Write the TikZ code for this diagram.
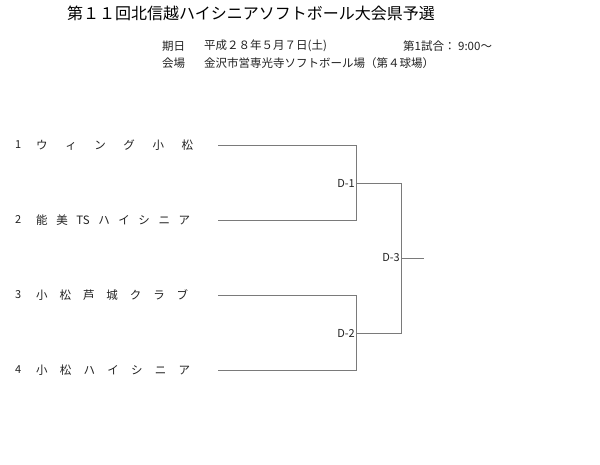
\documentclass[tikz,border=0pt]{standalone}
\usepackage{fontspec}
\newfontfamily\jp{Noto Sans CJK JP}
\definecolor{linegray}{HTML}{7A7A7A}
\definecolor{txt}{HTML}{222222}
\begin{document}
\begin{tikzpicture}[x=1pt,y=-1pt,
  title/.style={anchor=center,inner sep=0pt,font=\jp\fontsize{16}{18}\selectfont,text=black},
  info/.style={anchor=west,inner sep=0pt,font=\jp\fontsize{11.5}{13}\selectfont,text=txt},
  teamno/.style={anchor=west,inner sep=0pt,font=\jp\fontsize{11}{13}\selectfont,text=txt},
  teamname/.style={anchor=west,inner sep=0pt,font=\jp\fontsize{11.5}{13}\selectfont,text=txt},
  game/.style={anchor=east,inner sep=1pt,font=\jp\fontsize{11}{12}\selectfont,text=txt},
  bracket/.style={draw=linegray,line width=0.9pt}]
\useasboundingbox (0,0) rectangle (600,465);
\fill[white] (0,0) rectangle (600,465);
% header
\node[title] (ttl) at (251,13) {第１１回北信越ハイシニアソフトボール大会県予選};
\node[info] (dl) at (162,46) {期日};
\node[info] (dv) at (204,46) {平成２８年５月７日(土)};
\node[info] (gm) at (403,46) {第1試合：\ 9:00～};
\node[info] (vl) at (162,63) {会場};
\node[info] (vv) at (204,63) {金沢市営専光寺ソフトボール場（第４球場）};
% teams
\node[teamno] (n1) at (15,145) {1};
\node[teamname] (t1) at (36,145) {\makebox[157pt][s]{ウ\hfill ィ\hfill ン\hfill グ\hfill 小\hfill 松}};
\node[teamno] (n2) at (15,220) {2};
\node[teamname] (t2) at (36,220) {\makebox[154pt][s]{能\hfill 美\hfill TS\hfill ハ\hfill イ\hfill シ\hfill ニ\hfill ア}};
\node[teamno] (n3) at (15,295) {3};
\node[teamname] (t3) at (36,295) {\makebox[152pt][s]{小\hfill 松\hfill 芦\hfill 城\hfill ク\hfill ラ\hfill ブ}};
\node[teamno] (n4) at (15,370) {4};
\node[teamname] (t4) at (36,370) {\makebox[154pt][s]{小\hfill 松\hfill ハ\hfill イ\hfill シ\hfill ニ\hfill ア}};
% bracket points
\coordinate (s1) at (218,145);
\coordinate (s2) at (218,220);
\coordinate (s3) at (218,295);
\coordinate (s4) at (218,370);
\coordinate (d1) at (356,183);
\coordinate (d2) at (356,333);
\coordinate (d3) at (401,258);
\coordinate (fin) at (424,258);
\draw[bracket] (s1) -| (d1);
\draw[bracket] (s2) -| (d1);
\draw[bracket] (s3) -| (d2);
\draw[bracket] (s4) -| (d2);
\draw[bracket] (d1) -| (d3);
\draw[bracket] (d2) -| (d3);
\draw[bracket] (d3) -- (fin);
\node[game] (g1) at (d1) {D-1};
\node[game] (g2) at (d2) {D-2};
\node[game] (g3) at (d3) {D-3};
\end{tikzpicture}
\end{document}
